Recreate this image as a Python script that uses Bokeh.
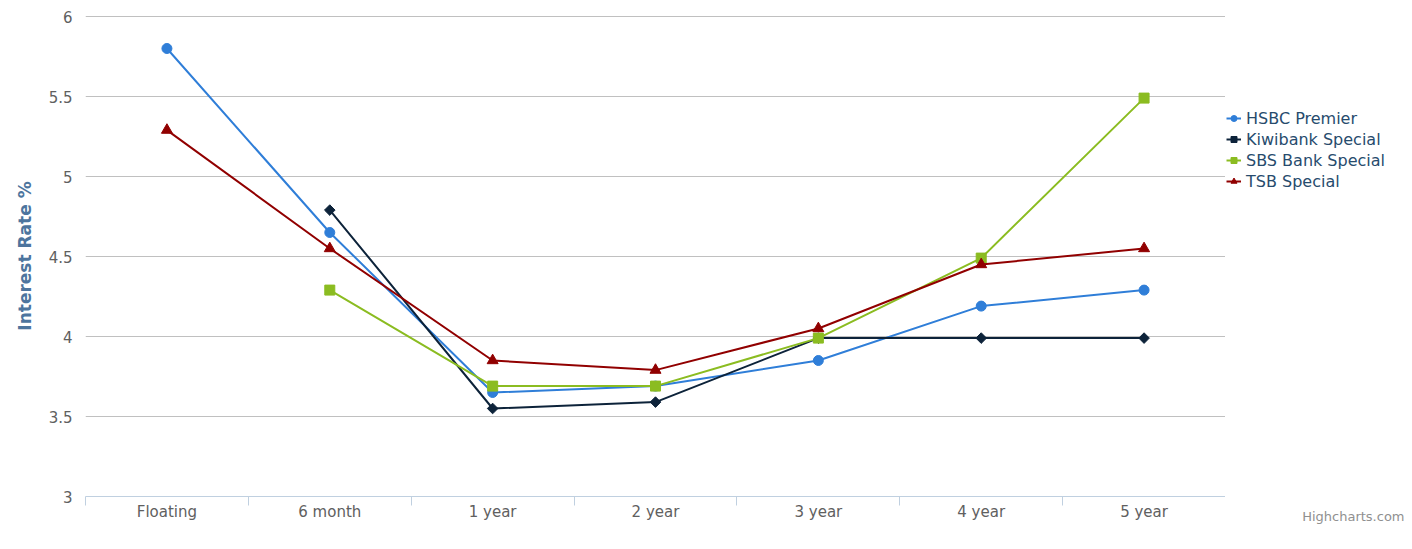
from bokeh.plotting import figure
from bokeh.models import (FixedTicker, NumeralTickFormatter, Legend, LegendItem,
                          Title, Range1d)
from bokeh.layouts import row
from bokeh.embed import file_html
from bokeh.resources import INLINE
import numpy as np
import math

categories = ["Floating", "6 month", "1 year", "2 year", "3 year", "4 year", "5 year"]
hsbc = [5.8, 4.65, 3.65, 3.69, 3.85, 4.19, 4.29]
kiwibank = [np.nan, 4.79, 3.55, 3.59, 3.99, 3.99, 3.99]
sbs = [np.nan, 4.29, 3.69, 3.69, 3.99, 4.49, 5.49]
tsb = [5.29, 4.55, 3.85, 3.79, 4.05, 4.45, 4.55]
yticks = [3, 3.5, 4, 4.5, 5, 5.5, 6]

series = [
    # name, values, colour, marker, size, angle
    ("HSBC Premier", hsbc, "#2f7ed8", "circle", 10, 0.0),
    ("Kiwibank Special", kiwibank, "#0d233a", "square", 7.5, math.pi / 4),
    ("SBS Bank Special", sbs, "#8bbc21", "square", 10, 0.0),
    ("TSB Special", tsb, "#910000", "triangle", 11, 0.0),
]

FONT = "DejaVu Sans"
xs = list(range(len(categories)))

p = figure(width=1225, height=541, output_backend="svg", toolbar_location=None,
           x_range=Range1d(-0.5, len(categories) - 0.5), y_range=Range1d(3, 6 + 1 / 160),
           min_border_left=85, min_border_right=0, min_border_top=15, min_border_bottom=45)
p.outline_line_color = None
p.background_fill_color = "white"
p.border_fill_color = "white"

# y axis
p.yaxis.ticker = FixedTicker(ticks=yticks)
p.yaxis.formatter = NumeralTickFormatter(format="0.[0]")
p.yaxis.axis_line_color = None
p.yaxis.major_tick_line_color = None
p.yaxis.major_tick_out = 0
p.yaxis.major_tick_in = 0
p.yaxis.minor_tick_line_color = None
p.yaxis.major_label_text_color = "#606060"
p.yaxis.major_label_text_font = FONT
p.yaxis.major_label_text_font_size = "15px"
p.yaxis.major_label_standoff = 13
p.yaxis.axis_label = "Interest Rate %"
p.yaxis.axis_label_text_font = FONT
p.yaxis.axis_label_text_font_style = "bold"
p.yaxis.axis_label_text_font_size = "17px"
p.yaxis.axis_label_text_color = "#4d759e"
p.yaxis.axis_label_standoff = 11
p.ygrid.grid_line_color = "#C0C0C0"
p.ygrid.ticker = FixedTicker(ticks=yticks)
p.xgrid.grid_line_color = None

# x axis: labels at category centres, ticks at category boundaries
p.xaxis.ticker = FixedTicker(ticks=xs, minor_ticks=[i - 0.5 for i in range(len(categories) + 1)])
p.xaxis.major_label_overrides = {i: c for i, c in enumerate(categories)}
p.xaxis.major_tick_line_color = None
p.xaxis.major_tick_out = 0
p.xaxis.major_tick_in = 0
p.xaxis.minor_tick_line_color = "#C0D0E0"
p.xaxis.minor_tick_in = 0
p.xaxis.minor_tick_out = 9
p.xaxis.axis_line_color = "#C0D0E0"
p.xaxis.major_label_text_color = "#606060"
p.xaxis.major_label_text_font = FONT
p.xaxis.major_label_text_font_size = "15px"
p.xaxis.major_label_standoff = -3

for name, vals, color, marker, size, angle in series:
    p.line(xs, vals, line_color=color, line_width=2)
    p.scatter(xs, vals, marker=marker, size=size, angle=angle,
              fill_color=color, line_color=color)

# side panel holding the legend and the credit (its frame aligns with the main frame)
side = figure(width=179, height=541, output_backend="svg", toolbar_location=None,
              x_axis_type=None, y_axis_type=None,
              x_range=Range1d(-100, -99), y_range=Range1d(-100, -99),
              min_border_left=0, min_border_right=0, min_border_top=0, min_border_bottom=0)
side.outline_line_color = None
side.grid.grid_line_color = None
side.background_fill_color = "white"
side.border_fill_color = "white"

items = []
for name, vals, color, marker, size, angle in series:
    # same series, drawn outside this panel's visible range: only the legend shows
    r1 = side.line(xs, vals, line_color=color, line_width=2)
    r2 = side.scatter(xs, vals, marker=marker, size=size, angle=angle,
                      fill_color=color, line_color=color)
    items.append(LegendItem(label=name, renderers=[r1, r2]))

legend = Legend(items=items, location=(1, 305), padding=0, margin=0, spacing=1,
                glyph_width=15, glyph_height=20, label_height=20, label_standoff=5,
                label_text_font=FONT, label_text_font_size="16px",
                label_text_color="#274b6d", border_line_color=None,
                background_fill_alpha=0)
side.add_layout(legend, "center")

credit = Title(text="Highcharts.com", align="right", standoff=20,
               text_font=FONT, text_font_size="13px", text_color="#909090",
               text_font_style="normal")
side.add_layout(credit, "below")

layout = row(p, side, spacing=0)
open("out.html", "w").write(file_html(layout, INLINE))
